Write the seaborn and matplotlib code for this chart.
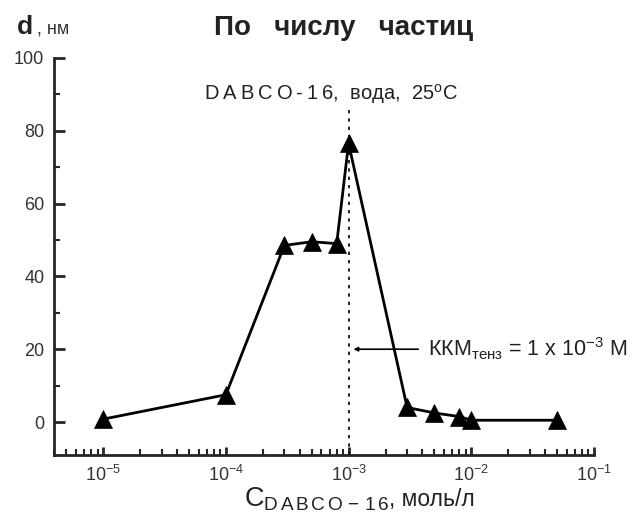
import numpy as np
import pandas as pd
import matplotlib
matplotlib.use('Agg')
import matplotlib.pyplot as plt
import seaborn as sns
from matplotlib.ticker import LogLocator, FixedLocator, NullFormatter

# data
conc = [1e-5, 1e-4, 3e-4, 5e-4, 8e-4, 1e-3, 3e-3, 5e-3, 8e-3, 1e-2, 5e-2]
diam = [0.8, 7.5, 48.5, 49.5, 49.0, 76.5, 4.0, 2.5, 1.5, 0.5, 0.5]
cmc = 1e-3
x_ticks = [1e-5, 1e-4, 1e-3, 1e-2, 1e-1]
x_tick_labels = ['10$^{-5}$', '10$^{-4}$', '10$^{-3}$', '10$^{-2}$', '10$^{-1}$']
y_ticks = [0, 20, 40, 60, 80, 100]

df = pd.DataFrame({'c': conc, 'd': diam})

sns.set_style('ticks')
plt.rcParams['font.family'] = ['Liberation Sans', 'DejaVu Sans']
plt.rcParams['mathtext.fontset'] = 'custom'
plt.rcParams['mathtext.rm'] = 'Liberation Sans'
plt.rcParams['mathtext.it'] = 'Liberation Sans'
plt.rcParams['mathtext.bf'] = 'Liberation Sans:bold'

fig = plt.figure(figsize=(6.36, 5.21), dpi=100)
ax = fig.add_axes([0.085, 0.127, 0.849, 0.762])

# dotted CMC line
ax.plot([cmc, cmc], [-9, 86.5], ls=(0, (2, 3)), color='black', lw=1.2, zorder=1)

sns.lineplot(data=df, x='c', y='d', ax=ax, color='black', lw=2,
             marker='^', markersize=13, markeredgecolor='black',
             markeredgewidth=0.5, zorder=3)

ax.set_xscale('log')
ax.set_xlim(10 ** -5.4, 1e-1)
ax.set_ylim(-9, 100)

ax.xaxis.set_major_locator(FixedLocator(x_ticks))
ax.set_xticklabels(x_tick_labels)
ax.xaxis.set_minor_locator(LogLocator(base=10, subs=np.arange(2, 10)))
ax.xaxis.set_minor_formatter(NullFormatter())
ax.set_yticks(y_ticks)
ax.yaxis.set_minor_locator(FixedLocator([10, 30, 50, 70, 90]))

ax.tick_params(which='major', direction='in', length=8, width=2,
               labelsize=13, labelcolor='#333333', pad=7)
ax.tick_params(which='minor', direction='in', length=4, width=1.5)
ax.tick_params(axis='x', which='major', length=6, pad=7)

for side in ['top', 'right']:
    ax.spines[side].set_visible(False)
for side in ['left', 'bottom']:
    ax.spines[side].set_linewidth(2)

ax.set_xlabel('')
ax.set_ylabel('')

# texts
fig.text(0.54, 0.946, 'По   числу   частиц', ha='center', va='center',
         fontsize=20, fontweight='bold', color='#222222')
fig.text(0.026, 0.935, 'd', ha='left', va='baseline', fontsize=19,
         fontweight='bold', color='#222222')
fig.text(0.058, 0.935, ', нм', ha='left', va='baseline', fontsize=13,
         color='#333333')
ax.text(0.513, 0.91,
        'D\u2009A\u2009B\u2009C\u2009O\u2009-\u20091\u20096,  вода,  25$^{\\mathrm{o}}$C',
        transform=ax.transAxes, ha='center', va='center', fontsize=14.5,
        color='#222222')

ax.annotate('', xy=(cmc * 1.04, 20), xytext=(10 ** -2.41, 20),
            arrowprops=dict(arrowstyle='-|>', color='black', lw=1.2,
                            mutation_scale=6))
ax.text(10 ** -2.35, 20, 'ККМ$_{\\mathrm{тенз}}$ = 1 x 10$^{-3}$ M',
        ha='left', va='center', fontsize=15.5, color='#222222')

# x axis label: big C with subscript, then units in smaller type
lab1 = fig.text(0.383, 0.028,
                'C$_{\\mathrm{D\\,A\\,B\\,C\\,O\\,-\\,1\\,6}}$',
                ha='left', va='baseline', fontsize=19.5, color='#222222')
fig.canvas.draw()
bb = lab1.get_window_extent(renderer=fig.canvas.get_renderer())
fig.text(bb.x1 / fig.bbox.width, 0.028, ', моль/л', ha='left',
         va='baseline', fontsize=16.5, color='#222222')

fig.savefig('out.png', dpi=100)
